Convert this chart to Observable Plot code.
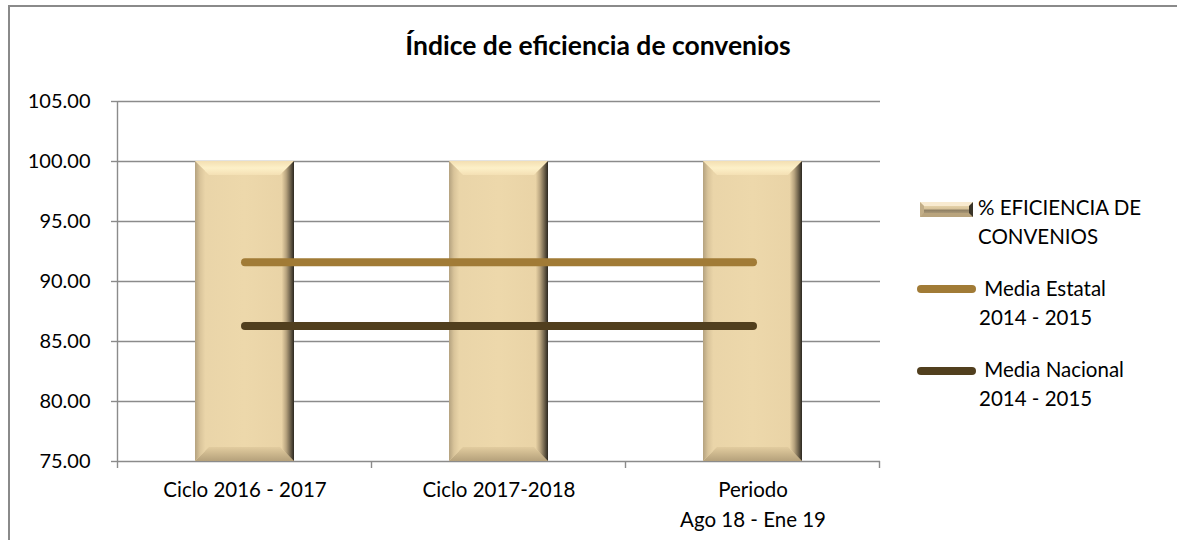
<!DOCTYPE html>
<html>
<head>
<meta charset="utf-8">
<script src="https://cdn.jsdelivr.net/npm/d3@7"></script>
<script src="https://cdn.jsdelivr.net/npm/@observablehq/plot@0.6"></script>
<style>
  html, body { margin: 0; padding: 0; background: #fff; overflow: hidden; }
  #wrap { position: relative; width: 1177px; height: 540px; overflow: hidden; font-family: Lato, "Open Sans", sans-serif; color: #000; }
  #frame { position: absolute; left: 8px; top: 5px; width: 1200px; height: 600px; border: 2px solid #8a8a8a; box-sizing: border-box; }
  #chart { position: absolute; left: 0; top: 0; width: 1177px; height: 540px; }
  #chart svg { max-width: none !important; }
  #title { position: absolute; left: 598px; top: 31.5px; transform: translateX(-50%); font-size: 26.5px; font-weight: 700; line-height: 26.5px; white-space: nowrap; }
  .lg { position: absolute; font-size: 20.5px; line-height: 29px; white-space: nowrap; }
  .sw { position: absolute; }
</style>
</head>
<body>
<div id="wrap">
  <div id="frame"></div>
  <div id="chart"></div>
  <div id="title"></div>
  <div id="legend"></div>
</div>
<script>
// ---- data ----
const categories = ["Ciclo 2016 - 2017", "Ciclo 2017-2018", "Periodo\nAgo 18 - Ene 19"];
const eficiencia = [100, 100, 100];
const mediaEstatal = [91.6, 91.6, 91.6];
const mediaNacional = [86.3, 86.3, 86.3];
const yTicks = [75, 80, 85, 90, 95, 100, 105];
const seriesNames = ["% EFICIENCIA DE\nCONVENIOS", " Media Estatal\n2014 - 2015", " Media Nacional\n2014 - 2015"];
const titleText = "Índice de eficiencia de convenios";

const colEstatal = "#a17b36";
const colNacional = "#513f1e";
const gridCol = "#8b8b8b";

const rows = categories.map((c, i) => ({cat: c, ef: eficiencia[i], est: mediaEstatal[i], nac: mediaNacional[i]}));

function bandInfo(x) {
  const bw = typeof x.bandwidth === "function" ? x.bandwidth() : x.bandwidth;
  const step = x(categories[1]) - x(categories[0]);
  return {bw, step, gap: (step - bw) / 2};
}

// bevelled bars drawn from the Plot scales
function bevelBars(index, scales) {
  const g = d3.create("svg:g");
  const defs = g.append("defs");
  function grad(id, horizontal, stops) {
    const lg = defs.append("linearGradient").attr("id", id)
      .attr("x1", 0).attr("y1", 0).attr("x2", horizontal ? 1 : 0).attr("y2", horizontal ? 0 : 1);
    stops.forEach(([o, c]) => lg.append("stop").attr("offset", o).attr("stop-color", c));
  }
  grad("bvMain", true, [[0, "#e9d4a8"], [0.5, "#edd8ab"], [1, "#e8d2a5"]]);
  grad("bvLeft", true, [[0, "#b4a27f"], [0.5, "#d9c49a"], [1, "#e9d4a8"]]);
  grad("bvRight", true, [[0, "#e6d0a3"], [0.35, "#b7a37e"], [0.7, "#6e624c"], [1, "#2b2720"]]);
  grad("bvTop", false, [[0, "#f3dfb2"], [0.5, "#fdf0c8"], [1, "#f4e0b4"]]);
  grad("bvBot", false, [[0, "#e2cc9f"], [1, "#b5a17b"]]);
  const x = scales.x, y = scales.y;
  const {bw} = bandInfo(x);
  const b = 14;
  rows.forEach(r => {
    const x0 = x(r.cat), x1 = x0 + bw;
    const yT = y(r.ef), yB = y(yTicks[0]);
    const poly = (pts, fill) => g.append("polygon").attr("points", pts.map(p => p.join(",")).join(" ")).attr("fill", fill);
    g.append("rect").attr("x", x0).attr("y", yT).attr("width", bw).attr("height", yB - yT).attr("fill", "url(#bvMain)");
    poly([[x0, yT], [x1, yT], [x1 - b, yT + b], [x0 + b, yT + b]], "url(#bvTop)");
    poly([[x0 + b, yB - b], [x1 - b, yB - b], [x1, yB], [x0, yB]], "url(#bvBot)");
    poly([[x0, yT], [x0 + 10, yT + 10], [x0 + 10, yB - 10], [x0, yB]], "url(#bvLeft)");
    poly([[x1, yT], [x1 - 12, yT + 12], [x1 - 12, yB - 12], [x1, yB]], "url(#bvRight)");
  });
  return g.node();
}

// axis lines and category boundary ticks drawn from the Plot scales
function axisLines(index, scales) {
  const g = d3.create("svg:g").attr("stroke", gridCol).attr("stroke-width", 1.4);
  const x = scales.x, y = scales.y;
  const {bw, gap} = bandInfo(x);
  const yB = y(yTicks[0]), yT = y(yTicks[yTicks.length - 1]);
  const left = x(categories[0]) - gap;
  g.append("line").attr("x1", left).attr("x2", left).attr("y1", yT).attr("y2", yB);
  const bounds = categories.map(c => x(c) - gap).concat([x(categories[categories.length - 1]) + bw + gap]);
  bounds.forEach(bx => g.append("line").attr("x1", bx).attr("x2", bx).attr("y1", yB).attr("y2", yB + 7));
  return g.node();
}

const chart = Plot.plot({
  width: 1177,
  height: 540,
  marginLeft: 118,
  marginRight: 297,
  marginTop: 101,
  marginBottom: 79,
  style: {background: "transparent", fontFamily: "Lato, 'Open Sans', sans-serif", fontSize: "20.5px", color: "#000", maxWidth: "none"},
  x: {type: "band", domain: categories, paddingInner: 0.61, paddingOuter: 0.305, axis: null, label: null},
  y: {domain: [yTicks[0], yTicks[yTicks.length - 1]], axis: null, label: null},
  marks: [
    Plot.gridY(yTicks, {stroke: gridCol, strokeOpacity: 1, strokeWidth: 1.4}),
    Plot.axisY(yTicks, {anchor: "left", tickSize: 7, tickPadding: 21, stroke: gridCol, strokeWidth: 1.4, tickFormat: d => d.toFixed(2), fontSize: 20, fill: "#000", label: null}),
    bevelBars,
    Plot.line(rows, {x: "cat", y: "est", stroke: colEstatal, strokeWidth: 8, strokeLinecap: "round"}),
    Plot.line(rows, {x: "cat", y: "nac", stroke: colNacional, strokeWidth: 8, strokeLinecap: "round"}),
    Plot.axisX(categories, {anchor: "bottom", tickSize: 0, tickPadding: 14, lineHeight: 1.46, fontSize: 20.5, fill: "#000", label: null}),
    axisLines
  ]
});
chart.style.position = "absolute";
chart.style.left = "0px";
chart.style.top = "0px";
chart.style.maxWidth = "none";
chart.setAttribute("width", 1177);
chart.setAttribute("height", 540);
document.getElementById("chart").appendChild(chart);

document.getElementById("title").textContent = titleText;

// legend
const legend = document.getElementById("legend");
function addText(txt, left, top) {
  const d = document.createElement("div");
  d.className = "lg";
  d.style.left = left + "px";
  d.style.top = top + "px";
  d.innerHTML = txt.split("\n").map(s => s.replace(/ /g, "&nbsp;")).join("<br>");
  legend.appendChild(d);
}
// bar swatch
const swBar = document.createElement("div");
swBar.className = "sw";
swBar.style.left = "920px"; swBar.style.top = "201px";
swBar.innerHTML = `<svg width="53" height="15" viewBox="0 0 53 15">
  <defs>
   <linearGradient id="lgMid" x1="0" y1="0" x2="0" y2="1"><stop offset="0" stop-color="#f6e6bd"/><stop offset="0.45" stop-color="#d8c39a"/><stop offset="0.55" stop-color="#8f8064"/><stop offset="1" stop-color="#cdb88f"/></linearGradient>
  </defs>
  <rect x="0" y="0" width="53" height="15" fill="url(#lgMid)"/>
  <polygon points="0,0 53,0 49,4 4,4" fill="#f8ead0"/>
  <polygon points="4,11 49,11 53,15 0,15" fill="#b9a47d"/>
  <polygon points="0,0 4,4 4,11 0,15" fill="#c2ae88"/>
  <polygon points="53,0 49,4 49,11 53,15" fill="#3a3428"/>
</svg>`;
legend.appendChild(swBar);
addText(seriesNames[0], 978, 192.6);

function addLineSwatch(color, left, cy) {
  const s = document.createElement("div");
  s.className = "sw";
  s.style.left = left + "px"; s.style.top = (cy - 4) + "px";
  s.style.width = "59px"; s.style.height = "8px";
  s.style.borderRadius = "4px"; s.style.background = color;
  legend.appendChild(s);
}
addLineSwatch(colEstatal, 917, 289);
addText(seriesNames[1], 979, 273.6);
addLineSwatch(colNacional, 917, 371);
addText(seriesNames[2], 979, 354.6);
</script>
</body>
</html>
